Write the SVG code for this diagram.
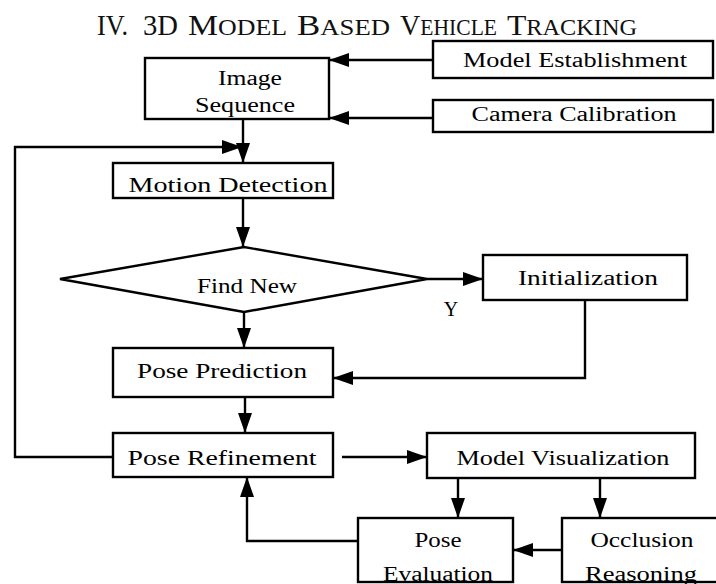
<svg xmlns="http://www.w3.org/2000/svg" width="716" height="584" viewBox="0 0 716 584">
<defs>
<marker id="ah" viewBox="0 0 20 14" refX="20" refY="7" markerWidth="20" markerHeight="14" markerUnits="userSpaceOnUse" orient="auto"><path d="M0,0 L20,7 L0,14 z" fill="#000"/></marker>
<style>
.box{fill:#fff;stroke:#000;stroke-width:2.4}
.lbl{font-family:"Liberation Serif","Times New Roman",serif;font-size:20px;fill:#000;text-anchor:middle}
.ttl{font-family:"Liberation Serif","Times New Roman",serif;font-size:30px;fill:#111}
.sc{font-size:23px}
.conn{fill:none;stroke:#000;stroke-width:2.4;marker-end:url(#ah)}
</style>
</defs>
<rect width="716" height="584" fill="#fff"/>
<g id="title">
<text class="ttl" x="97" y="35" textLength="31" lengthAdjust="spacingAndGlyphs">IV.</text>
<text class="ttl" x="143" y="35" textLength="35" lengthAdjust="spacingAndGlyphs">3D</text>
<text class="ttl" x="188" y="35" textLength="99" lengthAdjust="spacingAndGlyphs">M<tspan class="sc">ODEL</tspan></text>
<text class="ttl" x="297" y="35" textLength="93" lengthAdjust="spacingAndGlyphs">B<tspan class="sc">ASED</tspan></text>
<text class="ttl" x="400" y="35" textLength="97" lengthAdjust="spacingAndGlyphs">V<tspan class="sc">EHICLE</tspan></text>
<text class="ttl" x="507" y="35" textLength="130" lengthAdjust="spacingAndGlyphs">T<tspan class="sc">RACKING</tspan></text>
</g>
<g id="connectors">
<path class="conn" d="M433,60 H329"/>
<path class="conn" d="M433,118 H329"/>
<path class="conn" d="M243,119 V163"/>
<path class="conn" d="M113,457 H15 V147 H242"/>
<path class="conn" d="M243,198 V247"/>
<path class="conn" d="M427,279 H483"/>
<path class="conn" d="M244,312 V348"/>
<path class="conn" d="M585,300 V378 H333"/>
<path class="conn" d="M245,397 V433"/>
<path class="conn" d="M342,457 H427"/>
<path class="conn" d="M358,541 H247 V477"/>
<path class="conn" d="M458,478 V518"/>
<path class="conn" d="M600,478 V518"/>
<path class="conn" d="M562,550 H513"/>
<text class="lbl" x="451" y="316">Y</text>
</g>
<g id="image-sequence"><rect class="box" x="145" y="58" width="184" height="61"/><text class="lbl" x="250" y="85" textLength="64" lengthAdjust="spacingAndGlyphs">Image</text><text class="lbl" x="245" y="112" textLength="100" lengthAdjust="spacingAndGlyphs">Sequence</text></g>
<g id="model-establishment"><rect class="box" x="433" y="41" width="280" height="37"/><text class="lbl" x="575" y="67" textLength="224" lengthAdjust="spacingAndGlyphs">Model Establishment</text></g>
<g id="camera-calibration"><rect class="box" x="433" y="100" width="280" height="32"/><text class="lbl" x="574" y="121" textLength="205" lengthAdjust="spacingAndGlyphs">Camera Calibration</text></g>
<g id="motion-detection"><rect class="box" x="113" y="163" width="220" height="35"/><text class="lbl" x="228" y="192" textLength="199" lengthAdjust="spacingAndGlyphs">Motion Detection</text></g>
<g id="find-new"><polygon class="box" points="60,279 244,247 427,279 244,312"/><text class="lbl" x="247" y="293" textLength="100" lengthAdjust="spacingAndGlyphs">Find New</text></g>
<g id="initialization"><rect class="box" x="483" y="255" width="204" height="45"/><text class="lbl" x="588" y="285" textLength="140" lengthAdjust="spacingAndGlyphs">Initialization</text></g>
<g id="pose-prediction"><rect class="box" x="113" y="348" width="220" height="49"/><text class="lbl" x="222" y="378" textLength="170" lengthAdjust="spacingAndGlyphs">Pose Prediction</text></g>
<g id="pose-refinement"><rect class="box" x="113" y="433" width="220" height="44"/><text class="lbl" x="222" y="465" textLength="189" lengthAdjust="spacingAndGlyphs">Pose Refinement</text></g>
<g id="model-visualization"><rect class="box" x="427" y="433" width="268" height="45"/><text class="lbl" x="563" y="465" textLength="213" lengthAdjust="spacingAndGlyphs">Model Visualization</text></g>
<g id="pose-evaluation"><rect class="box" x="358" y="518" width="155" height="64"/><text class="lbl" x="438" y="547" textLength="47" lengthAdjust="spacingAndGlyphs">Pose</text><text class="lbl" x="438" y="581" textLength="110" lengthAdjust="spacingAndGlyphs">Evaluation</text></g>
<g id="occlusion-reasoning"><rect class="box" x="562" y="518" width="170" height="64"/><text class="lbl" x="642" y="547" textLength="103" lengthAdjust="spacingAndGlyphs">Occlusion</text><text class="lbl" x="641" y="581" textLength="112" lengthAdjust="spacingAndGlyphs">Reasoning</text></g>
</svg>
